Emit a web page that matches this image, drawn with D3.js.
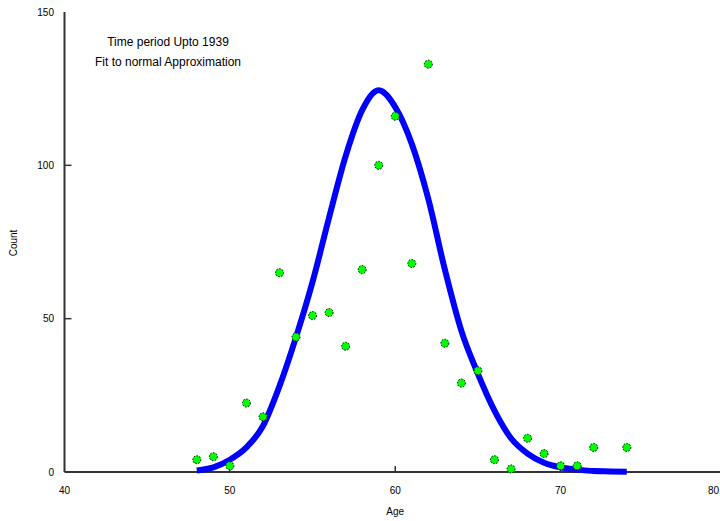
<!DOCTYPE html>
<html>
<head>
<meta charset="utf-8">
<script src="https://cdn.jsdelivr.net/npm/d3@7"></script>
<style>
  body { margin: 0; background: #fff; }
  svg { display: block; }
  text { font-family: "Liberation Sans", Arial, sans-serif; fill: #000; }
</style>
</head>
<body>
<svg class="chart"></svg>
<script>
// observed counts by age
var ages = [48, 49, 50, 51, 52, 53, 54, 55, 56, 57, 58, 59, 60, 61, 62, 63, 64, 65, 66, 67, 68, 69, 70, 71, 72, 74];
var counts = [4, 5, 2, 22.5, 18, 65, 44, 51, 52, 41, 66, 100, 116, 68, 133, 42, 29, 33, 4, 1, 11, 6, 2, 2, 8, 8];

// fitted normal curve
var fitAges = [48, 49, 50, 51, 52, 53, 54, 55, 56, 57, 58, 59, 60, 61, 62, 63, 64, 65, 66, 67, 68, 69, 70, 71, 72, 73, 74];
var fitCounts = [0.5, 1.5, 4, 8, 15, 28, 44, 62, 83, 103, 118, 124.5, 119, 107, 89, 66, 46, 32, 20, 11, 6, 3, 1.5, 0.8, 0.3, 0.2, 0.1];

var xTicks = [40, 50, 60, 70, 80];
var yTicks = [0, 50, 100, 150];
var notes = ["Time period Upto 1939", "Fit to normal Approximation"];

var W = 720, H = 521;
var svg = d3.select(".chart").attr("width", W).attr("height", H);

var x = d3.scaleLinear().domain([40, 80]).range([64.5, 726]);
var y = d3.scaleLinear().domain([0, 150]).range([472, 12]);

// axes (ticks point inward)
var axisColor = "#333";
svg.append("line")
    .attr("x1", x(40)).attr("x2", W)
    .attr("y1", y(0)).attr("y2", y(0))
    .attr("stroke", axisColor).attr("stroke-width", 2);
svg.append("line")
    .attr("x1", x(40)).attr("x2", x(40))
    .attr("y1", y(0)).attr("y2", y(150))
    .attr("stroke", axisColor).attr("stroke-width", 2);

svg.selectAll(".xtick").data(xTicks.filter(function(d) { return d > 40 && d < 80; }))
    .enter().append("line")
    .attr("x1", function(d) { return x(d); }).attr("x2", function(d) { return x(d); })
    .attr("y1", y(0)).attr("y2", y(0) - 6)
    .attr("stroke", axisColor).attr("stroke-width", 1.5);
svg.selectAll(".ytick").data(yTicks.filter(function(d) { return d > 0 && d < 150; }))
    .enter().append("line")
    .attr("x1", x(40)).attr("x2", x(40) + 7)
    .attr("y1", function(d) { return y(d); }).attr("y2", function(d) { return y(d); })
    .attr("stroke", axisColor).attr("stroke-width", 1.5);

// last x label sits at the window edge, so anchor it to the right
svg.selectAll(".xlabel").data(xTicks)
    .enter().append("text")
    .attr("x", function(d) { return Math.min(x(d), W - 1); })
    .attr("y", 494)
    .attr("text-anchor", function(d) { return x(d) + 6 > W ? "end" : "middle"; })
    .style("font-size", "10px")
    .text(function(d) { return d; });
svg.selectAll(".ylabel").data(yTicks)
    .enter().append("text")
    .attr("x", 54)
    .attr("y", function(d) { return y(d); })
    .attr("dy", "0.35em")
    .attr("text-anchor", "end")
    .style("font-size", "10px")
    .text(function(d) { return d; });

svg.append("text")
    .attr("x", x(60)).attr("y", 515)
    .attr("text-anchor", "middle")
    .style("font-size", "10px")
    .text("Age");
svg.append("text")
    .attr("transform", "translate(17," + 243 + ") rotate(-90)")
    .attr("text-anchor", "middle")
    .style("font-size", "10px")
    .text("Count");

svg.selectAll(".note").data(notes)
    .enter().append("text")
    .attr("x", 168)
    .attr("y", function(d, i) { return 46 + i * 20; })
    .attr("text-anchor", "middle")
    .style("font-size", "12px")
    .text(function(d) { return d; });

// fitted curve
var line = d3.line()
    .curve(d3.curveMonotoneX)
    .x(function(d) { return x(d[0]); })
    .y(function(d) { return y(d[1]); });
svg.append("path")
    .datum(d3.zip(fitAges, fitCounts))
    .attr("d", line)
    .attr("fill", "none")
    .attr("stroke", "#0000ff")
    .attr("stroke-width", 6)
    .attr("stroke-linejoin", "round");

// observed points
svg.selectAll(".pt").data(d3.zip(ages, counts))
    .enter().append("circle")
    .attr("cx", function(d) { return x(d[0]); })
    .attr("cy", function(d) { return y(d[1]); })
    .attr("r", 4)
    .attr("fill", "#00ff00")
    .attr("stroke", "#000")
    .attr("stroke-width", 1)
    .attr("stroke-dasharray", "1.5,1.5");
</script>
</body>
</html>
